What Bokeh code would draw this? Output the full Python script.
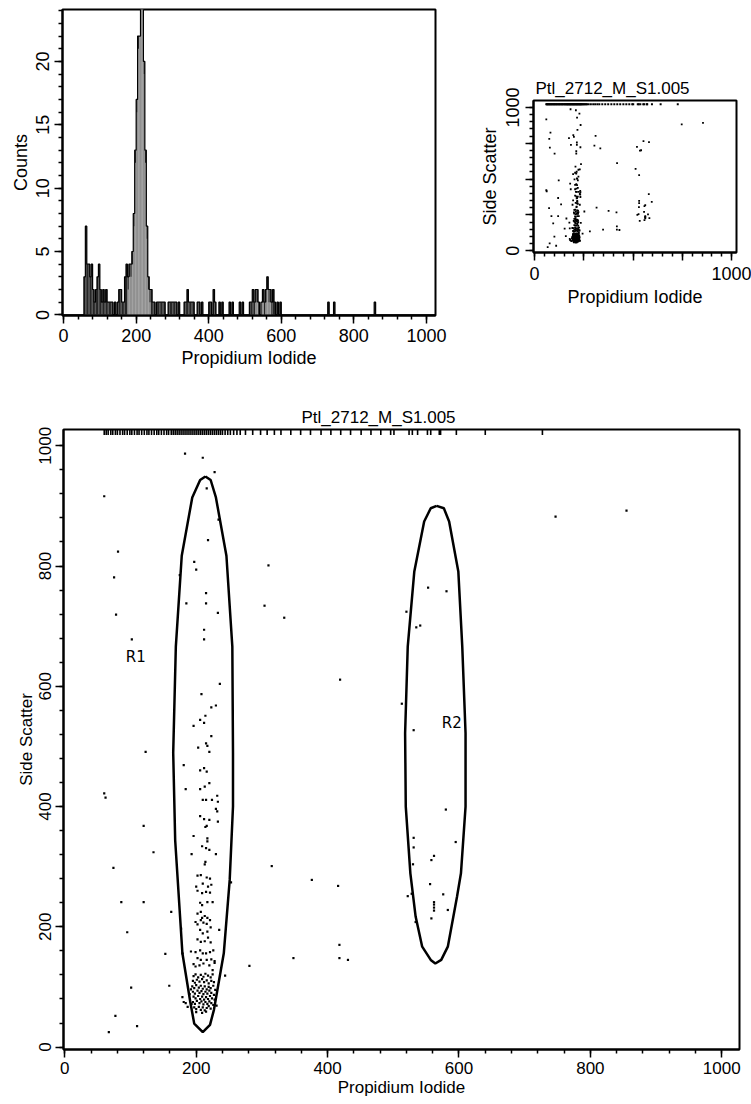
import numpy as np
from bokeh.plotting import figure
from bokeh.models import Range1d, SingleIntervalTicker, Label, Spacer
from bokeh.layouts import column, row
from bokeh.embed import file_html
from bokeh.resources import INLINE

FONT = "Liberation Sans"
TITLE = "Ptl_2712_M_S1.005"
X_LABEL = "Propidium Iodide"
Y_LABEL = "Side Scatter"

# ---------------- histogram data (bin width 4 channels) ----------------
BIN_WIDTH = 4
hist_left = [56, 60, 64, 68, 72, 76, 80, 84, 88, 92, 96, 100, 104, 108, 112, 116, 120, 124, 128, 132,
             140, 148, 152, 156, 160, 164, 168, 172, 176, 180, 184, 188, 192, 196, 200, 204, 208, 212,
             216, 220, 224, 228, 232, 236, 240, 244, 248, 256, 260, 264, 268, 272, 276, 288, 292, 296,
             300, 304, 308, 316, 332, 336, 340, 344, 348, 352, 356, 368, 372, 380, 400, 404, 412, 416,
             428, 436, 456, 464, 484, 492, 512, 516, 520, 524, 528, 532, 536, 544, 548, 552, 556, 560,
             564, 568, 572, 576, 580, 588, 596, 728, 744, 856]
hist_counts = [3, 7, 4, 4, 3, 4, 2, 1, 2, 3, 4, 2, 1, 2, 1, 2, 1, 1, 1, 1,
               1, 1, 2, 2, 1, 1, 3, 4, 3, 4, 4, 5, 8, 13, 17, 22, 22, 26,
               25, 20, 13, 7, 3, 2, 2, 1, 1, 1, 1, 1, 1, 1, 1, 1, 1, 1,
               1, 1, 1, 1, 1, 1, 2, 1, 1, 1, 1, 1, 1, 1, 1, 1, 2, 1,
               1, 1, 1, 1, 1, 1, 1, 1, 2, 1, 2, 2, 1, 1, 2, 1, 2, 3,
               2, 2, 1, 2, 1, 1, 1, 1, 1, 1]
gated_left = [176, 180, 184, 188, 192, 196, 200, 204, 208, 212, 216, 220, 224, 228, 232, 236,
              528, 532, 544, 548, 556, 560, 564, 568]
gated_counts = [2, 3, 3, 4, 7, 12, 16, 21, 22, 26, 25, 19, 12, 6, 2, 1,
                1, 1, 1, 1, 1, 2, 1, 1]

# ---------------- scatter data (PI, SSC) ----------------
pi_vals = [183, 210, 228, 60, 216, 234, 218, 81, 197, 200, 175, 75, 310, 215, 185, 215, 304, 78, 233, 334,
           212, 212, 102, 419, 236, 208, 230, 223, 214, 206, 212, 196, 223, 215, 217, 203, 220, 123,
           747, 855, 553, 581, 520, 535, 541, 513, 531, 580, 531, 531, 595, 530, 558, 562, 556, 522,
           528, 576, 562, 562, 562, 562, 583, 558, 534,
           181, 206, 212, 216, 220, 184, 206, 213, 232, 233, 210, 215, 224, 60, 62, 230, 232, 206, 212,
           214, 216, 220, 233, 120, 196, 217, 217, 209, 215, 220, 193, 230, 135, 214, 213, 74, 315, 202,
           207, 216, 221, 376, 416, 253, 200, 210, 218, 223, 202, 209, 215, 221, 86, 120, 206, 209, 217,
           225, 162, 202, 207, 213, 209, 217, 199, 202, 207, 211, 216, 221, 222, 235, 95, 177, 206, 210,
           217, 202, 207, 213, 218, 222, 153, 192, 199, 206, 210, 215, 221, 226, 179, 202, 207, 216, 223,
           228, 348, 418, 418, 431, 281, 196, 199, 205, 211, 220, 225, 228, 244, 159, 101, 179, 184, 187,
           181, 231, 77, 110, 67,
           196, 199, 203, 207, 211, 214, 218, 222, 225, 195, 198, 201, 205, 209, 212, 216, 219, 223, 227,
           194, 197, 200, 204, 207, 210, 213, 216, 219, 222, 226, 195, 198, 202, 205, 208, 211, 214, 217,
           220, 223, 227, 196, 199, 203, 206, 209, 212, 215, 218, 221, 224, 195, 198, 201, 205, 208, 211,
           214, 217, 220, 223, 226, 197, 200, 204, 207, 210, 213, 216, 219, 222, 192, 190, 229, 193, 228,
           200, 209, 215]
ssc_vals = [987, 980, 956, 916, 929, 877, 843, 824, 807, 794, 785, 781, 801, 755, 738, 738, 734, 719, 722, 714,
            694, 678, 678, 611, 604, 587, 568, 565, 551, 544, 539, 534, 517, 505, 501, 498, 491, 491,
            882, 892, 764, 758, 724, 698, 701, 571, 527, 395, 348, 332, 341, 304, 311, 318, 271, 251,
            255, 254, 241, 237, 232, 227, 228, 214, 208,
            469, 460, 464, 458, 439, 429, 429, 433, 418, 408, 411, 411, 411, 422, 415, 396, 392, 384, 379,
            366, 368, 378, 375, 368, 351, 347, 342, 334, 331, 328, 321, 321, 324, 308, 304, 298, 301, 285,
            286, 282, 280, 278, 268, 274, 267, 272, 267, 270, 260, 256, 258, 257, 241, 241, 240, 236, 241,
            241, 225, 222, 225, 218, 215, 215, 208, 204, 211, 207, 205, 211, 199, 195, 191, 197, 195, 189,
            192, 179, 175, 176, 182, 174, 155, 159, 158, 161, 156, 156, 158, 161, 156, 148, 145, 145, 146,
            143, 148, 170, 148, 145, 135, 138, 134, 136, 139, 136, 128, 140, 119, 102, 99, 83, 73, 67,
            75, 69, 52, 35, 25,
            118, 121, 116, 120, 117, 122, 119, 116, 121, 110, 107, 112, 109, 113, 108, 111, 106, 110, 108,
            101, 98, 103, 99, 102, 97, 101, 96, 100, 98, 102, 92, 89, 94, 90, 93, 88, 92, 89,
            94, 90, 87, 84, 81, 85, 80, 84, 79, 83, 80, 85, 81, 75, 72, 77, 73, 76, 71,
            75, 72, 76, 73, 70, 66, 63, 67, 62, 66, 61, 65, 68, 64, 96, 88, 95, 72, 79,
            58, 57, 59]

# events saturated at the top of the SSC scale
top_pi = [60, 63, 66, 70, 73, 77, 80, 84, 88, 91, 95, 99, 102, 106, 110, 113, 117, 121, 125, 128, 132,
          136, 140, 143, 147, 151, 155, 158, 162, 165, 168, 171, 174, 177, 180, 183, 186, 189, 192,
          195, 198, 201, 204, 207, 210, 213, 216, 219, 222, 225, 228, 231, 234, 237, 240, 244, 248,
          252, 257, 262, 267, 275, 286, 298, 308, 319, 329, 344, 359, 374, 390, 405, 420, 435, 451,
          466, 481, 496, 501, 524, 529, 537, 552, 557, 570, 572, 596, 640, 727]
top_ssc = [1022] * len(top_pi)

# gates
r1_x = [214, 222, 230, 246, 255, 256, 256, 251, 242, 227, 221, 210, 197, 191, 179, 168, 165, 169, 178, 194, 206, 214]
r1_y = [949, 943, 914, 817, 666, 489, 400, 278, 156, 62, 37, 25, 39, 75, 156, 344, 489, 666, 817, 914, 943, 949]
r2_x = [566, 577, 585, 599, 605, 610, 610, 603, 597, 583, 573, 564, 557, 544, 534, 526, 519, 518, 522, 532, 547, 557, 566]
r2_y = [900, 896, 874, 791, 666, 522, 400, 289, 250, 167, 145, 139, 145, 167, 217, 289, 400, 522, 666, 791, 874, 896, 900]
gate_names = ["R1", "R2"]
gate_label_x = [108, 589]
gate_label_y = [649, 539]


def style_axes(p, size="17px", label_standoff=6, axis_standoff=4):
    p.outline_line_color = "black"
    p.outline_line_width = 2
    p.background_fill_color = "white"
    p.border_fill_color = "white"
    p.grid.visible = False
    for ax in p.axis:
        ax.axis_line_width = 2
        ax.axis_line_color = "black"
        ax.major_tick_line_width = 1.5
        ax.minor_tick_line_width = 1.5
        ax.major_tick_out = 8
        ax.major_tick_in = 0
        ax.minor_tick_out = 4
        ax.minor_tick_in = 0
        ax.major_label_text_font = FONT
        ax.major_label_text_font_size = size
        ax.major_label_text_color = "black"
        ax.axis_label_text_font = FONT
        ax.axis_label_text_font_size = size
        ax.axis_label_text_font_style = "normal"
        ax.axis_label_text_color = "black"
        ax.major_label_standoff = label_standoff
        ax.axis_label_standoff = axis_standoff
    p.yaxis.major_label_orientation = "vertical"


# ---------------- histogram panel ----------------
h = figure(width=470, height=380, x_range=Range1d(-3, 1025), y_range=Range1d(-0.05, 24.1),
           output_backend="svg", toolbar_location=None,
           min_border_left=62, min_border_top=9, min_border_right=35, min_border_bottom=65)
h.quad(left=hist_left, right=[v + BIN_WIDTH for v in hist_left], bottom=0, top=hist_counts,
       fill_color="#262626", line_color=None)
h.quad(left=gated_left, right=[v + BIN_WIDTH for v in gated_left], bottom=0, top=gated_counts,
       fill_color="#a2a2a2", line_color=None)
full = np.zeros(256)
for l, c in zip(hist_left, hist_counts):
    full[l // BIN_WIDTH] = c
edges = np.arange(256) * BIN_WIDTH
h.step(x=list(edges) + [1024], y=list(full) + [0], mode="after", line_color="black", line_width=1.2)
h.xaxis.ticker = SingleIntervalTicker(interval=200, num_minor_ticks=5)
h.yaxis.ticker = SingleIntervalTicker(interval=5, num_minor_ticks=5)
h.xaxis.axis_label = X_LABEL
h.yaxis.axis_label = "Counts"
style_axes(h, "18px", 5, 3)

# ---------------- small dot plot ----------------
s = figure(width=281, height=312, x_range=Range1d(-5, 1025), y_range=Range1d(-12, 1048),
           output_backend="svg", toolbar_location=None, title=TITLE,
           min_border_left=63, min_border_top=32, min_border_right=15, min_border_bottom=128)
s.scatter(pi_vals, ssc_vals, marker="square", size=1.8, fill_color="black", line_color=None)
s.scatter(top_pi, top_ssc, marker="square", size=2, fill_color="black", line_color=None)
for ax in (s.xaxis, s.yaxis):
    ax.ticker = SingleIntervalTicker(interval=250, num_minor_ticks=5)
    ax.major_label_overrides = {250: "", 500: "", 750: ""}
s.xaxis.axis_label = X_LABEL
s.yaxis.axis_label = Y_LABEL
style_axes(s, "18px")
s.title.text_font = FONT
s.title.text_font_size = "17px"
s.title.text_font_style = "normal"
s.title.text_color = "black"
s.title.align = "left"
s.title.offset = 2
s.title.standoff = 5

# ---------------- large dot plot with gates ----------------
b = figure(width=751, height=724, x_range=Range1d(-2, 1027), y_range=Range1d(-4, 1027),
           output_backend="svg", toolbar_location=None, title=TITLE,
           min_border_left=63, min_border_top=49, min_border_right=12, min_border_bottom=55)
b.scatter(pi_vals, ssc_vals, marker="square", size=2.2, fill_color="black", line_color=None)
b.scatter(top_pi, top_ssc, marker="dash", angle=np.pi / 2, size=5, line_color="black", line_width=1.6)
b.line(r1_x, r1_y, line_color="black", line_width=2.5)
b.line(r2_x, r2_y, line_color="black", line_width=2.5)
for name, lx, ly in zip(gate_names, gate_label_x, gate_label_y):
    b.add_layout(Label(x=lx, y=ly, text=name, text_align="center", text_baseline="middle",
                       text_font="DejaVu Sans", text_font_size="15px", text_color="black"))
b.xaxis.ticker = SingleIntervalTicker(interval=200, num_minor_ticks=5)
b.yaxis.ticker = SingleIntervalTicker(interval=200, num_minor_ticks=5)
b.xaxis.axis_label = X_LABEL
b.yaxis.axis_label = Y_LABEL
style_axes(b, "17px", 4, 1)
b.title.text_font = FONT
b.title.text_font_size = "17px"
b.title.text_font_style = "normal"
b.title.text_color = "black"
b.title.align = "left"
b.title.offset = 238
b.title.standoff = 5

top_right = column(Spacer(width=281, height=68), s)
layout = column(row(h, top_right), b)
open("out.html", "w").write(file_html(layout, INLINE))
